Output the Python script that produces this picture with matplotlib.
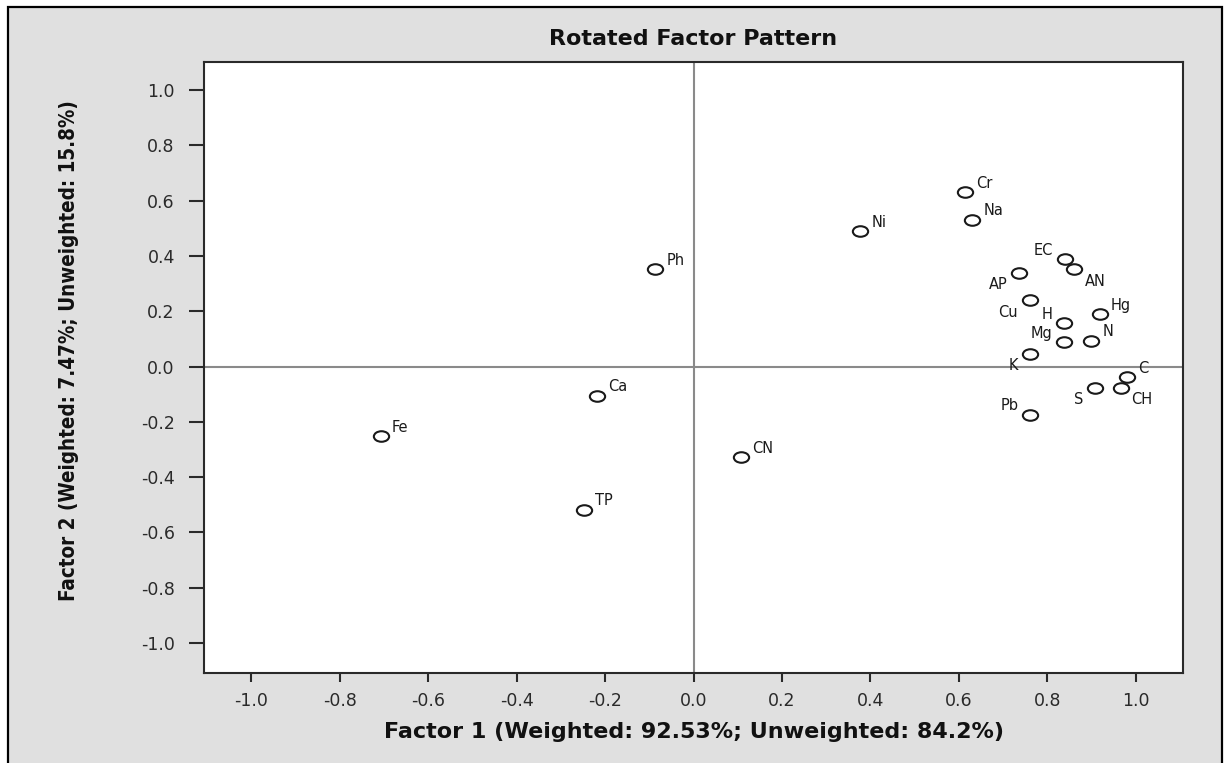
import numpy as np
import matplotlib
matplotlib.use("Agg")
import matplotlib.pyplot as plt
from matplotlib import font_manager
from matplotlib.path import Path
from matplotlib.transforms import Affine2D
from matplotlib.patches import Rectangle

# factor loadings (factor 1, factor 2) for each variable
variables = ["Fe", "Ca", "TP", "Ph", "CN", "Ni", "Cr", "Na", "EC", "AN", "AP",
             "Cu", "H", "Hg", "Mg", "N", "K", "C", "S", "CH", "Pb"]
factor1 = [-0.707, -0.219, -0.248, -0.087, 0.108, 0.377, 0.615, 0.630, 0.840, 0.861, 0.736,
           0.761, 0.838, 0.919, 0.839, 0.900, 0.761, 0.981, 0.908, 0.966, 0.762]
factor2 = [-0.250, -0.105, -0.517, 0.353, -0.328, 0.491, 0.632, 0.531, 0.387, 0.351, 0.339,
           0.240, 0.156, 0.190, 0.088, 0.094, 0.047, -0.037, -0.077, -0.077, -0.174]

ticks = [-1.0, -0.8, -0.6, -0.4, -0.2, 0.0, 0.2, 0.4, 0.6, 0.8, 1.0]

title = "Rotated Factor Pattern"
xlabel = "Factor 1 (Weighted: 92.53%; Unweighted: 84.2%)"
ylabel = "Factor 2 (Weighted: 7.47%; Unweighted: 15.8%)"

# where each label sits around its marker (crowded cluster on the right)
label_side = {"EC": "ul", "AN": "lr", "AP": "ll", "Cu": "ll", "H": "ul", "Mg": "ul",
              "K": "ll", "S": "ll", "CH": "lr", "Pb": "ul"}
side_offset = {"ur": (8, 3, "left"), "ul": (-8.5, 3, "right"),
               "lr": (7.5, -12, "left"), "ll": (-8.5, -12, "right")}

plt.rcParams["font.family"] = ["DejaVu Sans"]

# narrow bold face for the vertical axis title, if one is installed
narrow = None
for f in font_manager.fontManager.ttflist:
    if f.stretch in ("condensed", "semi-condensed", "extra-condensed") and f.weight in (600, 700, "bold"):
        narrow = f.name
        break
if narrow is None:
    for f in font_manager.fontManager.ttflist:
        if "Narrow" in f.name or "Condensed" in f.name:
            narrow = f.name
            break

fig = plt.figure(figsize=(12.29, 7.63), dpi=100)
fig.patch.set_facecolor("white")

# grey frame around the whole graph
frame = Rectangle((8 / 1229, -0.02), 1214 / 1229, 1 - 7 / 763 + 0.02,
                  transform=fig.transFigure, facecolor="#e0e0e0",
                  edgecolor="black", linewidth=1.6, zorder=-10)
fig.patches.append(frame)

ax = fig.add_axes([204 / 1229, 1 - 673 / 763, (1183 - 204) / 1229, (673 - 62) / 763])
ax.set_facecolor("white")

ax.axhline(0, color="#8a8a8a", lw=1.5, zorder=1)
ax.axvline(0, color="#8a8a8a", lw=1.5, zorder=1)

# slightly flattened open circle marker
ellipse = Path.unit_circle().transformed(Affine2D().scale(1.45, 1.0))
ax.plot(factor1, factor2, ls="none", marker=ellipse, ms=11, mfc="none",
        mec="#1a1a1a", mew=1.5, zorder=3)

for name, x, y in zip(variables, factor1, factor2):
    dx, dy, ha = side_offset[label_side.get(name, "ur")]
    ax.annotate(name, (x, y), xytext=(dx, dy), textcoords="offset points",
                ha=ha, va="baseline", fontsize=10.5, color="#1a1a1a", zorder=4)

ax.set_xlim(-1.107, 1.107)
ax.set_ylim(-1.108, 1.101)
ax.set_xticks(ticks)
ax.set_yticks(ticks)
ax.set_xticklabels([f"{t:.1f}" for t in ticks])
ax.set_yticklabels([f"{t:.1f}" for t in ticks])

ax.tick_params(axis="x", direction="out", length=6.5, width=1.5, pad=7,
               labelsize=12.5, colors="#2a2a2a")
ax.tick_params(axis="y", direction="out", length=11, width=1.5, pad=10,
               labelsize=12.5, colors="#2a2a2a")
for sp in ax.spines.values():
    sp.set_color("#2a2a2a")
    sp.set_linewidth(1.5)

ax.set_title(title, fontsize=16, fontweight="bold", pad=12, color="#111111")
ax.set_xlabel(xlabel, fontsize=16, fontweight="bold", color="#111111")
ax.xaxis.set_label_coords(0.5, -0.081)

if narrow is not None:
    ax.set_ylabel(ylabel, fontsize=14.8, fontweight="bold", color="#111111",
                  family=[narrow, "DejaVu Sans"], fontstretch="condensed")
else:
    ax.set_ylabel(ylabel, fontsize=13.5, fontweight="bold", color="#111111")
ax.yaxis.set_label_coords(-0.128, 0.528)

fig.savefig("out.png", dpi=100, facecolor=fig.get_facecolor())
